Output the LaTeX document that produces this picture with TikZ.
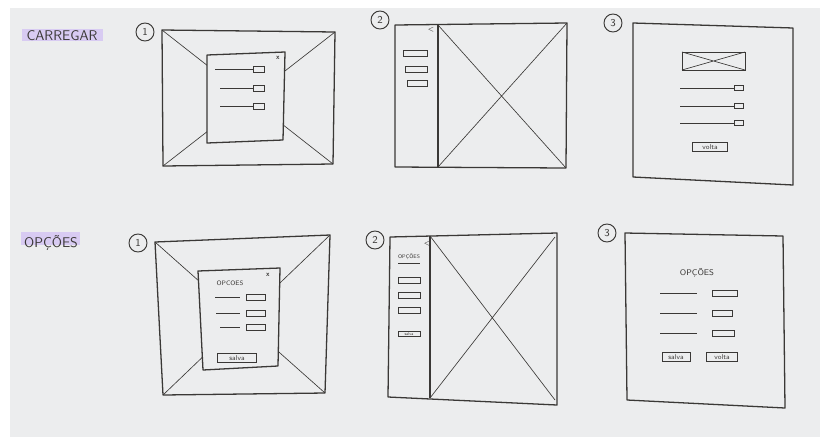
\documentclass[tikz,border=0pt]{standalone}
\usepackage{fontspec}

\definecolor{paper}{HTML}{ECEDEE}
\definecolor{ink}{HTML}{3A3836}
\definecolor{marker}{HTML}{D8CBF2}

\begin{document}
\begin{tikzpicture}[x=0.03cm, y=-0.03cm,
    frame/.style={draw=ink, line width=1.1pt, line join=round},
    cross/.style={draw=ink, line width=0.55pt},
    field/.style={draw=ink, line width=0.75pt},
    num/.style={draw=ink, circle, line width=0.8pt, minimum size=0.54cm, inner sep=0pt, font=\sffamily\small, text=ink},
    title/.style={font=\sffamily\fontsize{12}{14}\selectfont, text=ink},
    tag/.style={font=\sffamily\fontsize{5.5}{6}\selectfont, text=ink},
    btn/.style={draw=ink, line width=0.8pt, inner sep=0pt, minimum height=0.28cm, font=\sffamily\fontsize{6}{7}\selectfont, text=ink}]

    % Fix the canvas and the sheet of paper
    \useasboundingbox (0,0) rectangle (820,439);
    \fill[paper] (10,8) rectangle (820,437);

    % Row titles
    \fill[marker] (22,29) rectangle (103,41);
    \node[title] (carregar) at (62,36) {CARREGAR};
    \fill[marker] (21,232) rectangle (80,245);
    \node[title] (opcoes) at (51,243) {OPÇÕES};

    % Step numbers
    \node[num] (n11) at (145,32) {1};
    \node[num] (n12) at (380,20) {2};
    \node[num] (n13) at (613,23) {3};
    \node[num] (n21) at (138,243) {1};
    \node[num] (n22) at (375,240) {2};
    \node[num] (n23) at (607,233) {3};

    %% ---------------- CARREGAR ----------------

    % Screen 1: modal over the page
    \coordinate (a1) at (162,30);  \coordinate (a2) at (335,32);
    \coordinate (a3) at (333,164); \coordinate (a4) at (163,166);
    \draw[frame] (a1) -- (a2) -- (a3) -- (a4) -- cycle;
    \draw[cross] (a1) -- (a3) (a2) -- (a4);
    \filldraw[frame, fill=paper] (207,55) -- (285,52) -- (283,140) -- (207,143) -- cycle;
    \node[tag, font=\sffamily\fontsize{6}{7}\selectfont\bfseries] (close1) at (278,58) {x};
    \foreach \y/\x in {69/215, 88/220, 106/220} {
        \draw[field] (\x,\y) -- (253,\y);
        \draw[field] (253,\y-3) rectangle (264,\y+3);
    }

    % Screen 2: side menu and content
    \coordinate (c1) at (395,25);  \coordinate (c2) at (567,23);
    \coordinate (c3) at (566,168); \coordinate (c4) at (395,167);
    \coordinate (d1) at (438,25);  \coordinate (d4) at (438,167);
    \draw[frame] (c1) -- (c2) -- (c3) -- (c4) -- cycle;
    \draw[frame] (d1) -- (d4);
    \draw[cross] (d1) -- (c3) (d4) -- (c2);
    \node[tag, font=\sffamily\fontsize{6}{7}\selectfont\bfseries] (back1) at (431,30) {<};
    \foreach \y/\x in {50/403, 66/405, 80/407} {
        \draw[field] (\x,\y) rectangle (427,\y+6);
    }

    % Screen 3: full page with image
    \coordinate (e1) at (633,23);  \coordinate (e2) at (793,28);
    \coordinate (e3) at (793,185); \coordinate (e4) at (633,177);
    \draw[frame] (e1) -- (e2) -- (e3) -- (e4) -- cycle;
    \draw[field] (682,52) rectangle (745,70);
    \draw[cross] (682,52) -- (745,70) (682,70) -- (745,52);
    \foreach \y in {88, 106, 123} {
        \draw[field] (680,\y) -- (734,\y);
        \draw[field] (734,\y-3) rectangle (743,\y+2);
    }
    \node[btn, minimum width=1.05cm] (volta1) at (710,147) {volta};

    %% ---------------- OPÇÕES ----------------

    % Screen 1: options modal
    \coordinate (f1) at (155,242); \coordinate (f2) at (330,235);
    \coordinate (f3) at (325,393); \coordinate (f4) at (163,395);
    \draw[frame] (f1) -- (f2) -- (f3) -- (f4) -- cycle;
    \draw[cross] (f1) -- (f3) (f2) -- (f4);
    \filldraw[frame, fill=paper] (198,271) -- (280,268) -- (278,366) -- (203,370) -- cycle;
    \node[tag, font=\sffamily\fontsize{6}{7}\selectfont\bfseries] (close2) at (268,275) {x};
    \node[tag] (title21) at (230,283) {OPCOES};
    \foreach \y/\x in {297/215, 313/216, 327/220} {
        \draw[field] (\x,\y) -- (240,\y);
        \draw[field] (246,\y-3) rectangle (265,\y+3);
    }
    \node[btn, minimum width=1.15cm] (salva21) at (237,358) {salva};

    % Screen 2: options in the side menu
    \coordinate (g1) at (390,237); \coordinate (g2) at (557,233);
    \coordinate (g3) at (557,405); \coordinate (g4) at (388,397);
    \coordinate (h1) at (430,236); \coordinate (h4) at (430,398);
    \draw[frame] (g1) -- (g2) -- (g3) -- (g4) -- cycle;
    \draw[frame] (h1) -- (h4);
    \draw[cross] (h1) -- (555,400) (h4) -- (555,237);
    \node[tag, font=\sffamily\fontsize{6}{7}\selectfont\bfseries] (back2) at (427,244) {<};
    \node[tag, font=\sffamily\fontsize{4.5}{5}\selectfont] (title22) at (409,257) {OPÇÕES};
    \draw[field, line width=0.5pt] (398,263) -- (420,263);
    \foreach \y in {277, 292, 307} {
        \draw[field] (398,\y) rectangle (420,\y+6);
    }
    \node[btn, minimum width=0.66cm, minimum height=0.16cm, font=\sffamily\fontsize{3.5}{4}\selectfont] (salva22) at (409,334) {salva};

    % Screen 3: options page
    \coordinate (k1) at (625,233); \coordinate (k2) at (783,236);
    \coordinate (k3) at (785,408); \coordinate (k4) at (627,400);
    \draw[frame] (k1) -- (k2) -- (k3) -- (k4) -- cycle;
    \node[tag, font=\sffamily\fontsize{7}{8}\selectfont] (title23) at (697,273) {OPÇÕES};
    \foreach \y/\w in {293/737, 313/732, 333/734} {
        \draw[field] (660,\y) -- (697,\y);
        \draw[field] (712,\y-3) rectangle (\w,\y+3);
    }
    \node[btn, minimum width=0.84cm] (salva23) at (676,357) {salva};
    \node[btn, minimum width=0.93cm] (volta23) at (722,357) {volta};

\end{tikzpicture}
\end{document}
